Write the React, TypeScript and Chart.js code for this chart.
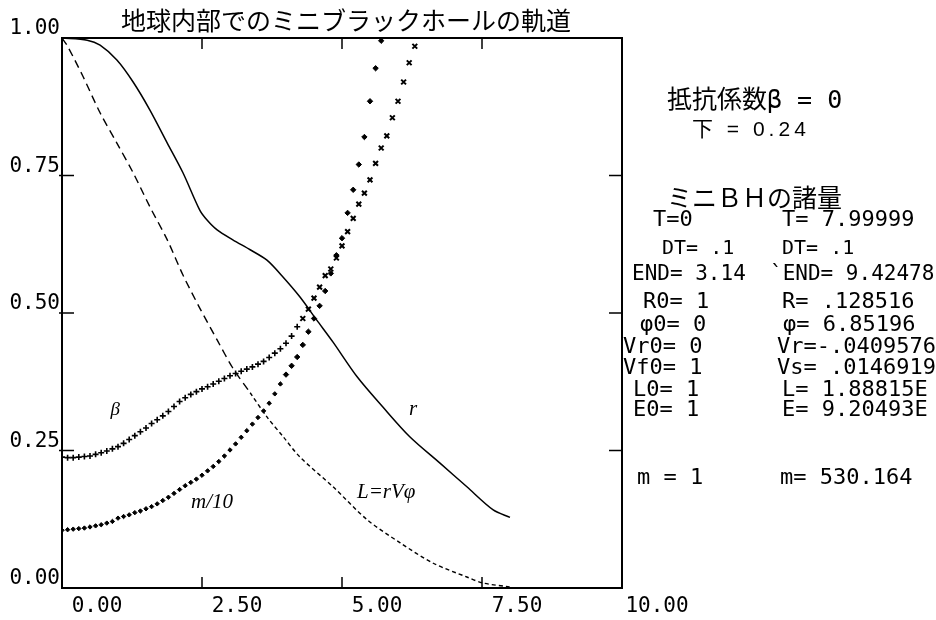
import React, { useEffect, useRef } from "react";
import { Chart, registerables } from "chart.js";

Chart.register(...registerables);

// ---- data ----
const DT = 0.1;
const xTickValues = [0, 2.5, 5, 7.5, 10];
const yTickValues = [0, 0.25, 0.5, 0.75, 1];

// r (solid line)
const rTime = [0, 0.45, 0.68, 0.98, 1.27, 1.57, 1.88, 2.16, 2.46, 2.59, 2.77, 3.05, 3.36, 3.66, 3.95, 4.25, 4.55, 4.84, 5.27, 5.73, 6.21, 6.75, 7.23, 7.7, 8.0];
const rValues = [1.0, 0.996, 0.987, 0.96, 0.92, 0.869, 0.809, 0.755, 0.687, 0.669, 0.651, 0.633, 0.615, 0.596, 0.565, 0.529, 0.487, 0.447, 0.384, 0.329, 0.275, 0.227, 0.184, 0.142, 0.1285];

// L = rVφ (dashed line)
const lTime = [0, 0.1, 0.38, 0.68, 0.98, 1.27, 1.57, 1.88, 2.16, 2.46, 2.77, 3.05, 3.36, 3.66, 3.95, 4.25, 4.84, 5.45, 6.04, 6.63, 7.23, 7.52, 8.0];
const lValues = [1.0, 0.985, 0.929, 0.864, 0.809, 0.755, 0.693, 0.633, 0.569, 0.509, 0.451, 0.4, 0.355, 0.311, 0.275, 0.238, 0.184, 0.124, 0.082, 0.045, 0.02, 0.009, 0.002];

// β (cross markers), one value per DT step from T = 0
const betaValues = [
  0.238, 0.237, 0.237, 0.238, 0.239, 0.24, 0.243, 0.246, 0.249, 0.253,
  0.257, 0.263, 0.27, 0.277, 0.284, 0.291, 0.299, 0.306, 0.313, 0.321,
  0.33, 0.339, 0.346, 0.352, 0.357, 0.362, 0.366, 0.371, 0.376, 0.381,
  0.386, 0.39, 0.394, 0.398, 0.402, 0.407, 0.412, 0.419, 0.427, 0.435,
  0.445, 0.458, 0.475, 0.49, 0.507, 0.527, 0.547, 0.568, 0.58, 0.6,
  0.622, 0.648, 0.672, 0.698, 0.718, 0.742, 0.772, 0.8, 0.822, 0.855,
  0.885, 0.92, 0.955, 0.985,
];

// m/10 (dot markers), one value per DT step from T = 0
const massValues = [
  0.105, 0.106, 0.107, 0.108, 0.109, 0.111, 0.113, 0.115, 0.118, 0.121,
  0.127, 0.13, 0.133, 0.137, 0.14, 0.144, 0.148, 0.153, 0.159, 0.165,
  0.172, 0.179, 0.186, 0.192, 0.198, 0.205, 0.213, 0.221, 0.23, 0.24,
  0.251, 0.262, 0.274, 0.286, 0.298, 0.31, 0.322, 0.336, 0.353, 0.371,
  0.388, 0.404, 0.42, 0.442, 0.466, 0.49, 0.513, 0.54, 0.572, 0.605,
  0.636, 0.682, 0.724, 0.77, 0.82, 0.885, 0.945, 0.995,
];

// ---- texts ----
const titleText = "地球内部でのミニブラックホールの軌道";
const curveLabels = [
  { text: "β", t: 0.95, v: 0.324, font: "italic 19px 'Liberation Serif'" },
  { text: "m/10", t: 2.68, v: 0.155, font: "italic 21px 'Liberation Serif'" },
  { text: "r", t: 6.27, v: 0.324, font: "italic 21px 'Liberation Serif'" },
  { text: "L=rVφ", t: 5.79, v: 0.173, font: "italic 21px 'Liberation Serif'" },
];

const MONO = "'DejaVu Sans Mono', 'Liberation Mono', monospace";
const panelTexts = [
  { text: "抵抗係数β = 0", x: 667, y: 101, font: `25px ${MONO}, 'Noto Sans CJK JP'`, spacing: "0px" },
  { text: "下 = 0.24", x: 692, y: 130, font: "21px 'Liberation Sans', 'Noto Sans CJK JP'", spacing: "4px" },
  { text: "ミニＢＨの諸量", x: 667, y: 197, font: "25px 'Noto Sans CJK JP'", spacing: "0px" },
  { text: "T=0", x: 653, y: 220, font: `22px ${MONO}`, spacing: "0px" },
  { text: "T= 7.99999", x: 782, y: 220, font: `22px ${MONO}`, spacing: "0px" },
  { text: "DT= .1", x: 662, y: 249, font: `20px ${MONO}`, spacing: "0px" },
  { text: "DT= .1", x: 782, y: 249, font: `20px ${MONO}`, spacing: "0px" },
  { text: "END= 3.14", x: 632, y: 275, font: `21px ${MONO}`, spacing: "0px" },
  { text: "`END= 9.42478", x: 770, y: 275, font: `21px ${MONO}`, spacing: "0px" },
  { text: "R0= 1", x: 643, y: 302, font: `22px ${MONO}`, spacing: "0px" },
  { text: "R= .128516", x: 782, y: 302, font: `22px ${MONO}`, spacing: "0px" },
  { text: "φ0= 0", x: 640, y: 325, font: `22px ${MONO}`, spacing: "0px" },
  { text: "φ= 6.85196", x: 783, y: 325, font: `22px ${MONO}`, spacing: "0px" },
  { text: "Vr0= 0", x: 623, y: 347, font: `22px ${MONO}`, spacing: "0px" },
  { text: "Vr=-.0409576", x: 777, y: 347, font: `22px ${MONO}`, spacing: "0px" },
  { text: "Vf0= 1", x: 623, y: 368, font: `22px ${MONO}`, spacing: "0px" },
  { text: "Vs= .0146919", x: 777, y: 368, font: `22px ${MONO}`, spacing: "0px" },
  { text: "L0= 1", x: 633, y: 390, font: `22px ${MONO}`, spacing: "0px" },
  { text: "L= 1.88815E", x: 782, y: 390, font: `22px ${MONO}`, spacing: "0px" },
  { text: "E0= 1", x: 633, y: 410, font: `22px ${MONO}`, spacing: "0px" },
  { text: "E= 9.20493E", x: 782, y: 410, font: `22px ${MONO}`, spacing: "0px" },
  { text: "m = 1", x: 637, y: 478, font: `22px ${MONO}`, spacing: "0px" },
  { text: "m= 530.164", x: 780, y: 478, font: `22px ${MONO}`, spacing: "0px" },
];

const framePlugin = {
  id: "framePlugin",
  afterDraw(chart: any) {
    const { ctx, chartArea: a, scales } = chart;
    const xs = scales.x;
    const ys = scales.y;
    ctx.save();
    ctx.strokeStyle = "#000";
    ctx.lineWidth = 2;
    ctx.strokeRect(a.left, a.top, a.right - a.left, a.bottom - a.top);
    ctx.lineWidth = 1.5;
    const tl = 11;
    ctx.beginPath();
    [2.5, 5, 7.5].forEach((v) => {
      const px = xs.getPixelForValue(v);
      ctx.moveTo(px, a.bottom);
      ctx.lineTo(px, a.bottom - tl);
      ctx.moveTo(px, a.top);
      ctx.lineTo(px, a.top + tl);
    });
    [0.25, 0.5, 0.75].forEach((v) => {
      const py = ys.getPixelForValue(v);
      ctx.moveTo(a.left - 3, py);
      ctx.lineTo(a.left + 12, py);
      ctx.moveTo(a.right, py);
      ctx.lineTo(a.right - 13, py);
    });
    ctx.stroke();

    ctx.fillStyle = "#000";
    ctx.textBaseline = "middle";
    // title
    ctx.font = "25px 'Noto Sans CJK JP'";
    ctx.textAlign = "center";
    ctx.fillText(titleText, 346, 20);
    // curve labels
    curveLabels.forEach((l) => {
      ctx.font = l.font;
      ctx.textAlign = "center";
      ctx.fillText(l.text, xs.getPixelForValue(l.t), ys.getPixelForValue(l.v));
    });
    // right panel
    ctx.textAlign = "left";
    panelTexts.forEach((p) => {
      ctx.font = p.font;
      (ctx as any).letterSpacing = p.spacing;
      ctx.fillText(p.text, p.x, p.y);
    });
    (ctx as any).letterSpacing = "0px";
    ctx.restore();
  },
};

export default function App() {
  const ref = useRef<HTMLCanvasElement | null>(null);

  useEffect(() => {
    if (!ref.current) return;
    const rData = rTime.map((t, i) => ({ x: t, y: rValues[i] }));
    const lData = lTime.map((t, i) => ({ x: t, y: lValues[i] }));
    const betaData = betaValues.map((v, i) => ({ x: +(i * DT).toFixed(1), y: v }));
    const massData = massValues.map((v, i) => ({ x: +(i * DT).toFixed(1), y: v }));

    const chart = new Chart(ref.current, {
      type: "scatter",
      data: {
        datasets: [
          {
            label: "r",
            data: rData,
            showLine: true,
            borderColor: "#000",
            borderWidth: 1.5,
            pointRadius: 0,
            tension: 0.3,
          },
          {
            label: "L",
            data: lData,
            showLine: true,
            borderColor: "#000",
            borderWidth: 1.4,
            pointRadius: 0,
            tension: 0.3,
            segment: {
              borderDash: (c: any) => (c.p0.parsed.x < 3.3 ? [8, 5] : [4, 3]),
            },
          },
          {
            label: "beta",
            data: betaData,
            showLine: false,
            borderColor: "#000",
            backgroundColor: "#000",
            borderWidth: (c: any) => (c.raw && c.raw.x < 4.3 ? 1.6 : 2),
            pointRadius: (c: any) => (c.raw && c.raw.x < 4.3 ? 3 : 3.4),
            pointStyle: (c: any) => (c.raw && c.raw.x < 4.3 ? "cross" : "crossRot"),
          },
          {
            label: "m/10",
            data: massData,
            showLine: false,
            borderColor: "#000",
            backgroundColor: "#000",
            borderWidth: 1,
            pointRadius: (c: any) => (c.raw && c.raw.x < 4 ? 2.2 : 2.7),
            pointStyle: "rectRot",
          },
        ],
      },
      options: {
        animation: false,
        responsive: false,
        devicePixelRatio: 1,
        layout: { padding: { top: 38, right: 314, left: 0, bottom: 0 } },
        plugins: {
          legend: { display: false },
          tooltip: { enabled: false },
          title: { display: false },
        },
        scales: {
          x: {
            type: "linear",
            min: 0,
            max: 10,
            grid: { display: false, drawTicks: false },
            border: { display: false },
            afterBuildTicks: (s: any) => {
              s.ticks = xTickValues.map((v) => ({ value: v }));
            },
            afterFit: (s: any) => {
              s.height = 32;
            },
            ticks: {
              autoSkip: false,
              maxRotation: 0,
              padding: 6,
              labelOffset: 35,
              color: "#000",
              font: { family: MONO, size: 21 },
              callback: (v: any) => Number(v).toFixed(2),
            },
          },
          y: {
            type: "linear",
            min: 0,
            max: 1,
            grid: { display: false, drawTicks: false },
            border: { display: false },
            afterBuildTicks: (s: any) => {
              s.ticks = yTickValues.map((v) => ({ value: v }));
            },
            afterFit: (s: any) => {
              s.width = 62;
            },
            ticks: {
              autoSkip: false,
              padding: 2,
              labelOffset: -9,
              color: "#000",
              font: { family: MONO, size: 21 },
              callback: (v: any) => Number(v).toFixed(2),
            },
          },
        },
      },
      plugins: [framePlugin],
    });
    return () => chart.destroy();
  }, []);

  return (
    <div style={{ position: "absolute", left: 0, top: 0, width: 936, height: 620, background: "#fff" }}>
      <canvas ref={ref} width={936} height={620} style={{ width: 936, height: 620, display: "block" }} />
    </div>
  );
}
